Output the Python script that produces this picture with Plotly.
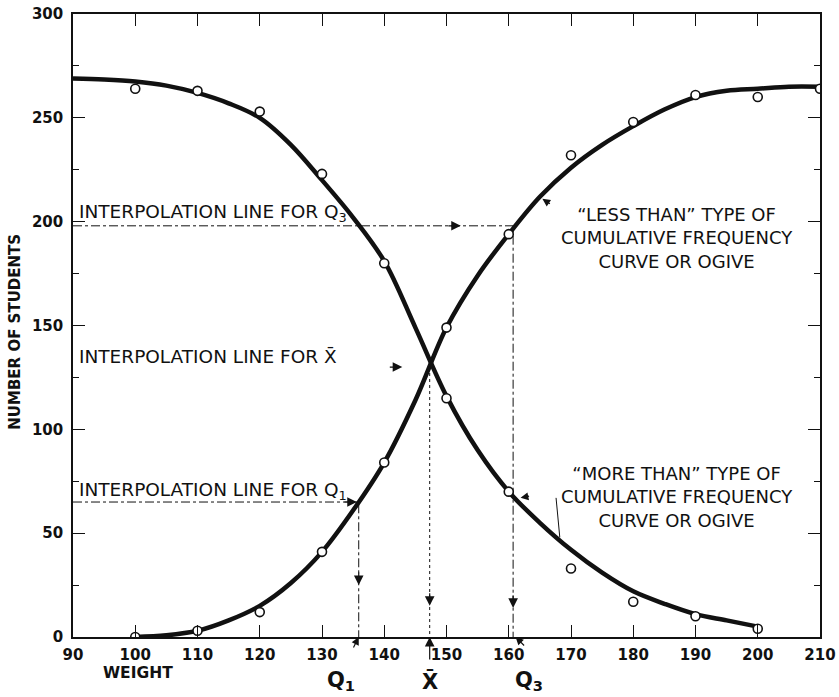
import plotly.graph_objects as go

# Observed cumulative frequencies of student weights
weights = [100, 110, 120, 130, 140, 150, 160, 170, 180, 190, 200, 210]
less_than_obs = [0, 3, 12, 41, 84, 149, 194, 232, 248, 261, 260, 264]
more_than_obs = [264, 263, 253, 223, 180, 115, 70, 33, 17, 10, 4]

# Smoothed ogives drawn through the observations
less_curve_x = [100, 105, 110, 115, 120, 125, 130, 135, 140, 145, 150, 155, 160,
                165, 170, 175, 180, 185, 190, 195, 200, 205, 210]
less_curve_y = [0, 0.8, 3, 8, 15, 26, 41, 61, 84, 114, 149, 174, 194,
                212, 226, 237, 246, 254, 260, 263, 264, 265, 265]
more_curve_x = [90, 95, 100, 105, 110, 115, 120, 125, 130, 135, 140, 145, 150,
                155, 160, 165, 170, 175, 180, 185, 190, 195, 200]
more_curve_y = [269, 268.5, 267.5, 265.5, 262, 257, 250, 237, 220, 202, 181, 149, 116,
                90, 70, 55, 42, 31, 22, 16, 11, 8, 5]

# Interpolated quartiles and mean: (weight, number of students)
q1_x, q1_y = 135.9, 65
xbar_x, xbar_y = 147.3, 130
q3_x, q3_y = 160.7, 198

x_ticks = list(range(90, 211, 10))
y_ticks = list(range(0, 301, 50))

FONT = "DejaVu Sans"
BLACK = "#111111"

fig = go.Figure()

# interpolation guide lines
guide = dict(color=BLACK, width=1)
fig.add_trace(go.Scatter(x=[90, q3_x, q3_x], y=[q3_y, q3_y, 0], mode="lines",
                         line=dict(dash="dashdot", **guide), hoverinfo="skip"))
fig.add_trace(go.Scatter(x=[90, q1_x, q1_x], y=[q1_y, q1_y, 0], mode="lines",
                         line=dict(dash="dashdot", **guide), hoverinfo="skip"))
fig.add_trace(go.Scatter(x=[xbar_x, xbar_x], y=[xbar_y, 0], mode="lines",
                         line=dict(dash="dot", **guide), hoverinfo="skip"))

# ogives
fig.add_trace(go.Scatter(x=less_curve_x, y=less_curve_y, mode="lines",
                         line=dict(color=BLACK, width=4.5, shape="spline", smoothing=1.0),
                         hoverinfo="skip"))
fig.add_trace(go.Scatter(x=more_curve_x, y=more_curve_y, mode="lines",
                         line=dict(color=BLACK, width=4.5, shape="spline", smoothing=1.0),
                         hoverinfo="skip"))

# observed points
circle = dict(symbol="circle", size=9, color="white", line=dict(color=BLACK, width=1.6))
fig.add_trace(go.Scatter(x=weights, y=less_than_obs, mode="markers", marker=circle))
fig.add_trace(go.Scatter(x=weights[:len(more_than_obs)], y=more_than_obs, mode="markers",
                         marker=circle))

# bracket from the "more than" label to its curve
fig.add_shape(type="line", x0=167.6, y0=67, x1=168.2, y1=48,
              line=dict(color=BLACK, width=1))

ann = []


def arrow(x, y, ax, ay, size=1.6):
    ann.append(dict(x=x, y=y, ax=ax, ay=ay, text="", showarrow=True, arrowhead=2,
                    arrowsize=size, arrowwidth=1.2, arrowcolor=BLACK))


# right-pointing heads on the horizontal interpolation lines
arrow(152.3, q3_y, -14, 0)
arrow(142.9, xbar_y, -14, 0)
arrow(q1_x - 0.3, q1_y, -14, 0)
# downward heads on the verticals
arrow(q1_x, 25, 0, -14)
arrow(xbar_x, 15, 0, -14)
arrow(q3_x, 14, 0, -14)
# heads under the axis pointing up at the values
arrow(xbar_x, 0, 0, 24)
arrow(q1_x, 0, -6, 12, 1.3)
arrow(q3_x + 0.4, 0, 10, 10, 1.3)
# pointers to the two curves
arrow(165.4, 211, 9, 6, 1.3)
arrow(161.9, 67, 10, -2, 1.3)

label_font = dict(family=FONT, size=18.5, color=BLACK)
for t, y in [("INTERPOLATION LINE FOR Q<sub>3</sub>", 204),
             ("INTERPOLATION LINE FOR X\u0304", 135),
             ("INTERPOLATION LINE FOR Q<sub>1</sub>", 70.5)]:
    ann.append(dict(x=90.6, y=y, text=t, showarrow=False, xanchor="left",
                    yanchor="middle", font=label_font))

ogive_font = dict(family=FONT, size=18, color=BLACK)
ann.append(dict(x=187, y=192, text="\u201cLESS THAN\u201d TYPE OF<br>CUMULATIVE FREQUENCY<br>CURVE OR OGIVE",
                showarrow=False, xanchor="center", yanchor="middle", align="center",
                font=ogive_font))
ann.append(dict(x=187, y=67.5, text="\u201cMORE THAN\u201d TYPE OF<br>CUMULATIVE FREQUENCY<br>CURVE OR OGIVE",
                showarrow=False, xanchor="center", yanchor="middle", align="center",
                font=ogive_font))

# axis captions and quartile markers below the axis
ann.append(dict(x=0, xref="paper", y=0.49, yref="paper", text="NUMBER OF STUDENTS",
                textangle=-90, showarrow=False, xanchor="center", xshift=-58,
                font=dict(family=FONT, size=15, color=BLACK, weight="bold")))
ann.append(dict(x=100.5, y=0, text="WEIGHT", showarrow=False, yanchor="middle", yshift=-36,
                font=dict(family=FONT, size=15.5, color=BLACK, weight="bold")))
for t, x in [("Q<sub>1</sub>", q1_x - 2.9), ("X\u0304", xbar_x), ("Q<sub>3</sub>", 163.2)]:
    ann.append(dict(x=x, y=0, text=t, showarrow=False, yanchor="middle", yshift=-44,
                    font=dict(family=FONT, size=21, color=BLACK, weight="bold")))

axis_common = dict(showgrid=False, zeroline=False, showline=True, linecolor=BLACK,
                   linewidth=1.6, mirror="ticks", ticks="inside", tickcolor=BLACK,
                   tickwidth=1.3, ticklen=12, automargin=False,
                   tickfont=dict(family=FONT, size=15, color=BLACK, weight="bold"))

fig.update_layout(
    width=839, height=697,
    margin=dict(l=73, r=19, t=14, b=60),
    paper_bgcolor="white", plot_bgcolor="white",
    showlegend=False,
    annotations=ann,
    xaxis=dict(range=[90, 210], tickvals=x_ticks, ticktext=[str(v) for v in x_ticks],
               ticklabelstandoff=3, **axis_common),
    yaxis=dict(range=[0, 300], tickvals=y_ticks, ticktext=[str(v) for v in y_ticks],
               ticklabelstandoff=5,
               minor=dict(ticks="inside", ticklen=6, dtick=25, tickcolor=BLACK),
               **axis_common),
)

fig.write_html("out.html")
